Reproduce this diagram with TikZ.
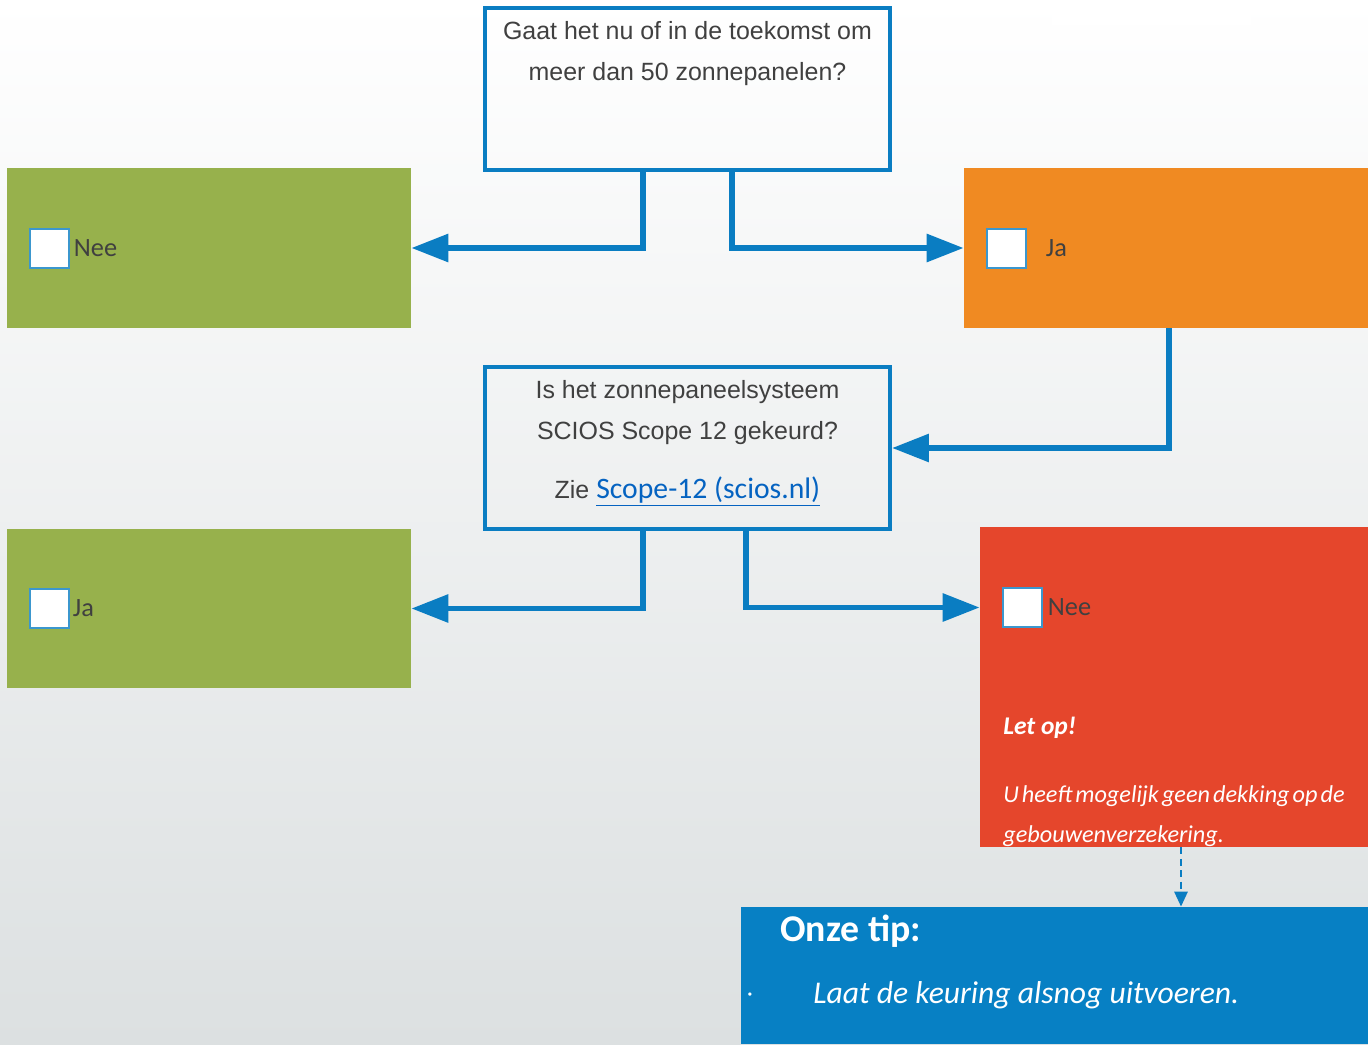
\documentclass[tikz,border=0pt]{standalone}
\usepackage{fontspec}
\setmainfont{Carlito}
\newfontfamily\vraagfont{Liberation Sans}
\newfontfamily\krapfont[WordSpace=0.55]{Carlito}
\usetikzlibrary{positioning,arrows.meta}

\definecolor{lijnblauw}{HTML}{0A7DC2}
\definecolor{tipblauw}{HTML}{0780C4}
\definecolor{groen}{HTML}{97B14C}
\definecolor{oranje}{HTML}{F08A22}
\definecolor{rood}{HTML}{E5462C}
\definecolor{tekstgrijs}{HTML}{404040}
\definecolor{linkblauw}{HTML}{0563C1}
\definecolor{grondonder}{HTML}{DCE0E1}

\tikzset{
  vraag/.style={draw=lijnblauw,line width=2.3pt,minimum width=8.1cm,minimum height=3.24cm,inner sep=0pt},
  vraagtekst/.style={font=\vraagfont\fontsize{14.2}{23.3}\selectfont,text=tekstgrijs,align=center,inner sep=0pt},
  vlak/.style={minimum width=8.08cm,minimum height=3.2cm,inner sep=0pt},
  vinkvak/.style={draw=lijnblauw!80,fill=white,line width=0.6pt,minimum size=0.78cm,inner sep=0pt},
  keuze/.style={font=\fontsize{15}{18}\selectfont,text=tekstgrijs,inner sep=0pt},
  pijl/.style={draw=lijnblauw,line width=3.4pt,-{Triangle[length=0.74cm,width=0.54cm]}},
  stippelpijl/.style={draw=lijnblauw,line width=1.6pt,dash pattern=on 4pt off 2.5pt,-{Triangle[length=0.3cm,width=0.26cm]}},
  wittekst/.style={text=white,inner sep=0pt}
}

\begin{document}
\begin{tikzpicture}[x=0.02cm,y=-0.02cm]
  \useasboundingbox (0,0) rectangle (1368,1044);
  % achtergrond
  \shade[top color=white,bottom color=grondonder] (0,0) rectangle (1368,1044);
  \fill[white] (1052,0) rectangle (1251,25);

  % eerste vraag
  \node[vraag] (vraag1) at (687.5,89) {};
  \node[vraagtekst,anchor=north] (vraag1tekst) at (687.5,21)
    {Gaat het nu of in de toekomst om\\meer dan 50 zonnepanelen?};

  \node[vlak,fill=groen] (nee1) at (209,248) {};
  \node[vinkvak] (vink1) at (49.5,248.5) {};
  \node[keuze,right=0.08cm of vink1] (nee1tekst) {Nee};

  \node[vlak,fill=oranje] (ja1) at (1166,248) {};
  \node[vinkvak] (vink2) at (1006.5,248.5) {};
  \node[keuze,right=0.38cm of vink2] (ja1tekst) {Ja};

  % tweede vraag
  \node[vraag] (vraag2) at (687.5,448) {};
  \node[vraagtekst,anchor=north] (vraag2tekst) at (687.5,380)
    {Is het zonnepaneelsysteem\\SCIOS Scope 12 gekeurd?\\[0.36cm]
     Zie {\rmfamily\fontsize{16.9}{18}\selectfont\color{linkblauw}\underline{Scope-12 (scios.nl)}}};

  \node[vlak,fill=groen,minimum height=3.18cm] (ja2) at (209,608.5) {};
  \node[vinkvak] (vink3) at (49.5,608.5) {};
  \node[keuze,right=0.06cm of vink3] (ja2tekst) {Ja};

  \node[vlak,fill=rood,minimum width=7.76cm,minimum height=6.4cm] (nee2) at (1174,687) {};
  \node[vinkvak] (vink4) at (1022.5,607.5) {};
  \node[keuze,right=0.1cm of vink4] (nee2tekst) {Nee};
  \node[wittekst,anchor=west,font=\bfseries\itshape\fontsize{14.5}{18}\selectfont] (letop) at (1003,728) {Let op!};
  \node[wittekst,anchor=north west,align=left,font=\krapfont\itshape\fontsize{13.8}{22.8}\selectfont] (dekking) at (1003,785)
    {U heeft mogelijk geen dekking op de\\gebouwenverzekering.};

  % tip
  \node[fill=tipblauw,minimum width=12.54cm,minimum height=2.74cm,inner sep=0pt] (tip) at (1054.5,975.5) {};
  \node[wittekst,anchor=west,font=\bfseries\fontsize{21.5}{24}\selectfont] (tipkop) at (780,931) {Onze tip:};
  \node[wittekst,font=\bfseries\fontsize{10}{12}\selectfont] (bol) at (750,996) {·};
  \node[wittekst,anchor=west,font=\itshape\fontsize{18}{22}\selectfont] (tiptekst) at (813,995) {Laat de keuring alsnog uitvoeren.};

  % pijlen
  \draw[pijl] ([xshift=-0.89cm]vraag1.south) |- (nee1.east);
  \draw[pijl] ([xshift=0.89cm]vraag1.south) |- (ja1.west);
  \draw[pijl] ([xshift=0.06cm]ja1.south) |- (vraag2.east);
  \draw[pijl] ([xshift=-0.89cm]vraag2.south) |- (ja2.east);
  \draw[pijl] ([xshift=1.17cm]vraag2.south) |- (nee2.west |- vink4);
  \draw[stippelpijl] ([xshift=0.14cm]nee2.south) -- ([xshift=0.14cm]nee2.south |- tip.north);
\end{tikzpicture}
\end{document}
